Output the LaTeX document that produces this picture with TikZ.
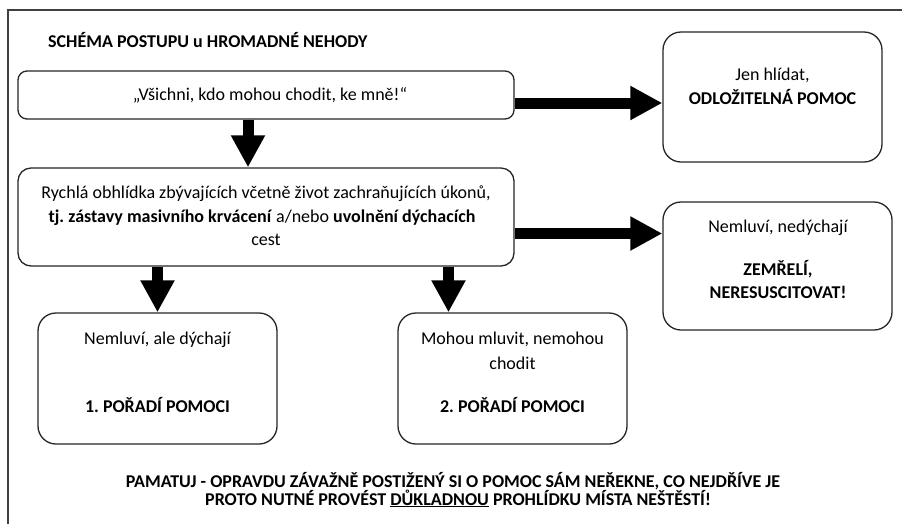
\documentclass[tikz,border=0pt]{standalone}
\usepackage{fontspec}
\setmainfont{Carlito}
\usetikzlibrary{arrows.meta}
\frenchspacing
\begin{document}
\begin{tikzpicture}[x=1pt,y=-1pt,
  box/.style={draw=black!85, line width=1.3pt, rounded corners=#1, inner sep=0pt},
  box/.default=14pt,
  txt/.style={anchor=base, inner sep=0pt, font=\fontsize{18}{22}\selectfont},
  bigarrow/.style={line width=11pt, line cap=butt, -{Triangle[width=32pt,length=32pt]}},
  frame/.style={draw=black!75, line width=2.8pt}]
\useasboundingbox (0,0) rectangle (902,523);
\clip (0,0) rectangle (902,523);
\fill[white] (0,0) rectangle (902,523);
\draw[frame] (8,10) rectangle (920,540);
% boxes
\node[box=9pt, minimum width=496pt, minimum height=48pt] (b1) at (266,95) {};
\node[box=13pt, minimum width=496pt, minimum height=98pt] (b2) at (266,217) {};
\node[box=18pt, minimum width=219pt, minimum height=130pt] (jen) at (772.5,97) {};
\node[box=18pt, minimum width=229pt, minimum height=128pt] (nd) at (777.5,266) {};
\node[box=18pt, minimum width=239pt, minimum height=131pt] (pa) at (157.5,378.5) {};
\node[box=18pt, minimum width=229pt, minimum height=131pt] (pb) at (512.5,378.5) {};
% texts
\node[txt, anchor=base west] (title) at (48,47) {\bfseries SCHÉMA POSTUPU u HROMADNÉ NEHODY};
\node[txt] (t1) at (270,100) {„Všichni, kdo mohou chodit, ke mně!“};
\node[txt] (t2a) at (266,198) {Rychlá obhlídka zbývajících včetně život zachraňujících úkonů,};
\node[txt] (t2b) at (262,222) {\textbf{tj. zástavy masivního krvácení} a/nebo \textbf{uvolnění dýchacích}};
\node[txt] (t2c) at (266,245) {cest};
\node[txt] (tj1) at (772.5,80) {Jen hlídat,};
\node[txt] (tj2) at (772.5,104) {\bfseries ODLOŽITELNÁ POMOC};
\node[txt] (tn1) at (778,232) {Nemluví, nedýchají};
\node[txt] (tn2) at (778,275) {\bfseries ZEMŘELÍ,};
\node[txt] (tn3) at (778,298) {\bfseries NERESUSCITOVAT!};
\node[txt] (ta1) at (157.5,344) {Nemluví, ale dýchají};
\node[txt] (ta2) at (157.5,412) {\bfseries 1. POŘADÍ POMOCI};
\node[txt] (tb1) at (512.5,344) {Mohou mluvit, nemohou};
\node[txt] (tb2) at (512.5,369) {chodit};
\node[txt] (tb3) at (512.5,412) {\bfseries 2. POŘADÍ POMOCI};
\node[txt] (bot1) at (453,487) {\bfseries PAMATUJ - OPRAVDU ZÁVAŽNĚ POSTIŽENÝ SI O POMOC SÁM NEŘEKNE, CO NEJDŘÍVE JE};
\node[txt] (bot2) at (458,505) {\bfseries PROTO NUTNÉ PROVÉST \underline{DŮKLADNOU} PROHLÍDKU MÍSTA NEŠTĚSTÍ!};
% arrows
\draw[bigarrow] ([xshift=-18pt]b1.south) -- ([xshift=-18pt]b1.south |- b2.north);
\draw[bigarrow] ([yshift=-8pt]b1.east) -- ([yshift=-8pt]b1.east -| jen.west);
\draw[bigarrow] ([yshift=-16.5pt]b2.east) -- ([yshift=-16.5pt]b2.east -| nd.west);
\draw[bigarrow] (b2.south -| pa.north) -- (pa.north);
\draw[bigarrow] ([xshift=-64pt]pb.north |- b2.south) -- ([xshift=-64pt]pb.north);
\end{tikzpicture}
\end{document}
